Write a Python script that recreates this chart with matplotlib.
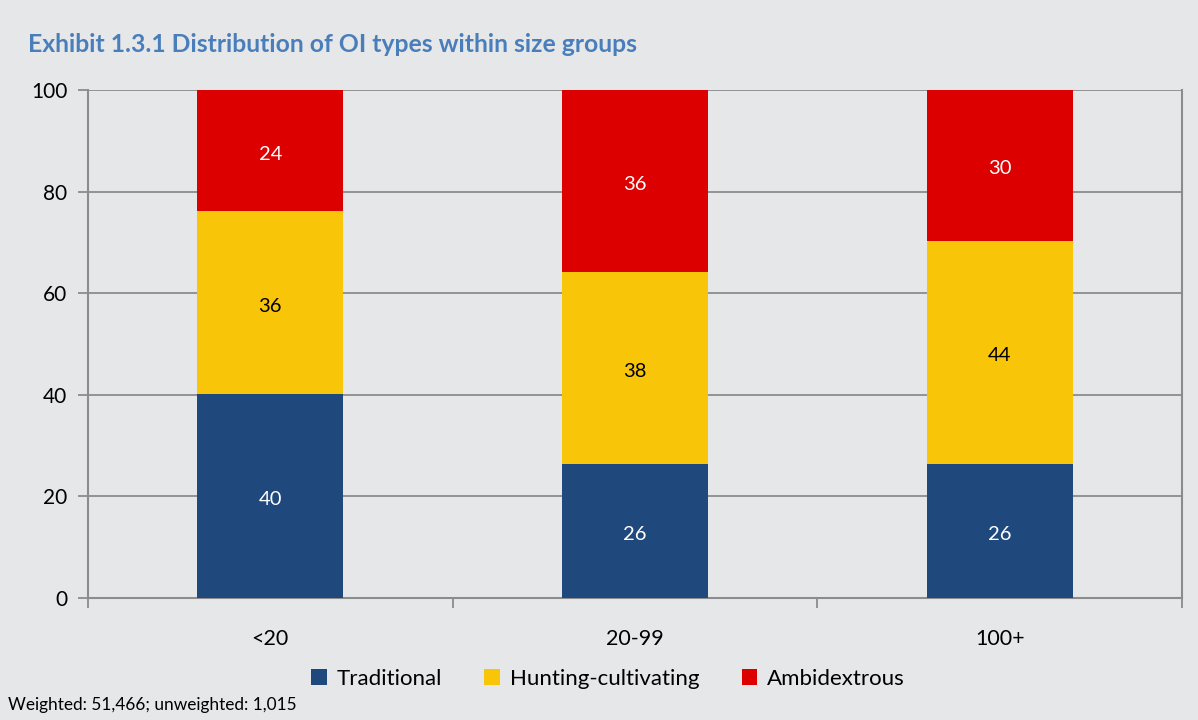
import matplotlib
matplotlib.use("Agg")
import matplotlib.pyplot as plt
from matplotlib.patches import Patch
import numpy as np

categories = ["<20", "20-99", "100+"]
traditional = [40.2, 26.4, 26.4]
hunting = [35.9, 37.8, 43.9]
ambidextrous = [23.9, 35.8, 29.7]
series_names = ["Traditional", "Hunting-cultivating", "Ambidextrous"]
yticks = [0, 20, 40, 60, 80, 100]

plt.rcParams['font.family'] = ['Lato', 'DejaVu Sans']
bg = "#e6e7e9"
colors = ["#1f497d", "#f8c508", "#dd0000"]
label_colors = ["white", "black", "white"]

fig = plt.figure(figsize=(11.98, 7.2), dpi=100, facecolor=bg)
ax = fig.add_axes([88/1198, 1-598/720, (1182-88)/1198, (598-90)/720])
ax.set_facecolor(bg)

x = np.arange(len(categories))
bottom = np.zeros(len(categories))
for vals, c, lc, name in zip([traditional, hunting, ambidextrous], colors, label_colors, series_names):
    ax.bar(x, vals, width=0.4, bottom=bottom, color=c, zorder=3, label=name)
    for xi, b, v in zip(x, bottom, vals):
        ax.annotate(f"{round(v):d}", (xi, b + v/2), xytext=(0, -2.5), textcoords="offset points",
                    ha="center", va="center", color=lc, fontsize=14.5, zorder=4)
    bottom += np.array(vals)

ax.set_xlim(-0.5, 2.5)
ax.set_ylim(0, 100)
ax.set_yticks(yticks)
ax.set_yticklabels([str(t) for t in yticks], fontsize=15)
ax.yaxis.grid(True, color="#8c8c8c", linewidth=1.3, zorder=1)
ax.tick_params(axis="y", length=7, color="#8c8c8c", width=1.3, pad=8)

ax.set_xticks([-0.5, 0.5, 1.5, 2.5])
ax.set_xticklabels([])
ax.set_xticks(x, minor=True)
ax.set_xticklabels(categories, minor=True, fontsize=15.5)
ax.tick_params(axis="x", which="major", length=7, color="#8c8c8c", width=1.3)
ax.tick_params(axis="x", which="minor", length=0, pad=22)

for side in ["left", "bottom", "right"]:
    ax.spines[side].set_color("#8c8c8c")
    ax.spines[side].set_linewidth(1.5)
ax.spines["top"].set_visible(False)

fig.text(28/1198, 1-45/720, "Exhibit 1.3.1 Distribution of OI types within size groups",
         color="#4a7ebb", fontsize=17.8, fontweight="bold", va="center", ha="left")
fig.text(8/1198, 1-705/720, "Weighted: 51,466; unweighted: 1,015", fontsize=12.4, va="center", ha="left")

handles = [Patch(facecolor=c, label=n) for c, n in zip(colors, series_names)]
fig.legend(handles=handles, loc="center", bbox_to_anchor=(608/1198, 1-679/720), ncol=3,
           frameon=False, fontsize=16, handlelength=0.7, handleheight=0.7, columnspacing=1.9, handletextpad=0.45)

fig.savefig("out.png", dpi=100, facecolor=bg)
